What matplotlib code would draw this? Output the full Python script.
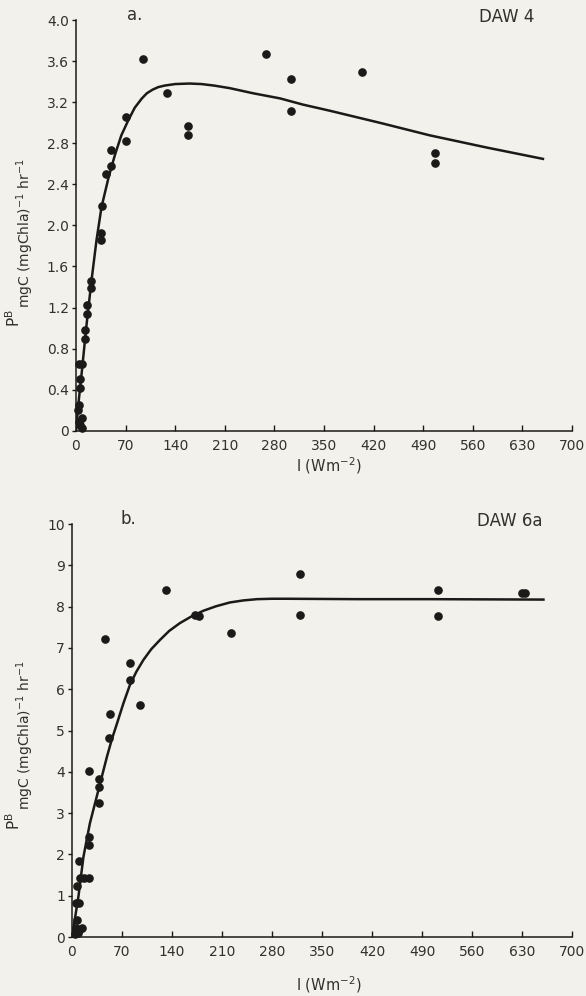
import matplotlib
matplotlib.use("Agg")
import matplotlib.pyplot as plt

# DAW 4 (panel a) - observations
a_irr = [94, 129, 158, 158, 268, 304, 304, 403, 506, 506,
         71, 71, 50, 50, 43, 36, 35, 35, 21, 21, 15, 15, 13, 13,
         9, 4, 6, 6, 4, 3, 8, 6, 9, 4]
a_pb = [3.62, 3.29, 2.97, 2.88, 3.67, 3.43, 3.12, 3.50, 2.71, 2.61,
        3.06, 2.82, 2.74, 2.58, 2.50, 2.19, 1.93, 1.86, 1.46, 1.39, 1.22, 1.14, 0.98, 0.89,
        0.65, 0.65, 0.50, 0.41, 0.25, 0.20, 0.12, 0.05, 0.02, 0.08]
# DAW 4 fitted curve
a_fit_irr = [0, 4, 8, 15, 22, 29, 36, 46, 55, 64, 74, 83, 93, 100, 108, 116, 125, 140,
             160, 177, 195, 217, 250, 288, 320, 358, 430, 499, 580, 659]
a_fit_pb = [0, 0.30, 0.56, 1.04, 1.47, 1.86, 2.18, 2.47, 2.69, 2.88, 3.03, 3.15, 3.24, 3.29,
            3.325, 3.35, 3.365, 3.38, 3.385, 3.38, 3.365, 3.34, 3.29, 3.24, 3.18, 3.12,
            3.00, 2.88, 2.76, 2.65]

# DAW 6a (panel b) - observations
b_irr = [132, 172, 178, 222, 46, 81, 81, 95, 53, 52, 24, 38, 38, 38, 24, 24,
         24, 17, 11, 10, 7, 10, 6, 7, 5, 10, 14, 8, 4,
         319, 319, 513, 513, 630, 634]
b_pb = [8.40, 7.80, 7.78, 7.37, 7.21, 6.63, 6.22, 5.62, 5.40, 4.81, 4.02, 3.82, 3.62, 3.24, 2.41, 2.22,
        1.44, 1.43, 1.43, 1.84, 1.23, 0.83, 0.83, 0.41, 0.21, 0.17, 0.23, 0.09, 0.07,
        8.79, 7.80, 8.39, 7.78, 8.34, 8.34]
# DAW 6a fitted curve
b_fit_irr = [0, 9, 16, 25, 37, 49, 56, 63, 72, 81, 90, 100, 111, 123, 136, 151, 167, 184,
             202, 221, 240, 259, 280, 300, 400, 500, 660]
b_fit_pb = [0, 0.98, 1.94, 2.75, 3.56, 4.37, 4.80, 5.17, 5.66, 6.10, 6.42, 6.71, 6.97, 7.19,
            7.41, 7.60, 7.76, 7.90, 8.01, 8.10, 8.15, 8.18, 8.19, 8.19, 8.18, 8.18, 8.17]

x_ticks = list(range(0, 701, 70))
a_yticks = [0, 0.4, 0.8, 1.2, 1.6, 2.0, 2.4, 2.8, 3.2, 3.6, 4.0]
a_ylabels = ["0", "0.4", "0.8", "1.2", "1.6", "2.0", "2.4", "2.8", "3.2", "3.6", "4.0"]
b_yticks = list(range(0, 11))

bg = "#f3f1eb"
ink = "#1c1a18"
txt = "#333130"
W, H = 586, 996

fig = plt.figure(figsize=(W / 100, H / 100), dpi=100, facecolor=bg)


def setup(ax, yticks, ylabels, ymax):
    ax.set_facecolor(bg)
    ax.set_xlim(0, 700)
    ax.set_ylim(0, ymax)
    for s in ["top", "right"]:
        ax.spines[s].set_visible(False)
    for s in ["left", "bottom"]:
        ax.spines[s].set_linewidth(1.1)
        ax.spines[s].set_color(ink)
    ax.set_xticks(x_ticks)
    ax.set_yticks(yticks)
    ax.set_yticklabels(ylabels)
    ax.tick_params(axis="x", direction="in", length=4, width=1, colors=ink,
                   labelcolor=txt, labelsize=10, pad=6)
    ax.tick_params(axis="y", direction="out", length=3, width=1, colors=ink,
                   labelcolor=txt, labelsize=10, pad=2)


def fx(px):
    return px / W


def fy(py):
    return 1 - py / H


ax1 = fig.add_axes([fx(76), fy(430.5), fx(496), 410 / H])
setup(ax1, a_yticks, a_ylabels, 4.0)
ax1.plot(a_fit_irr, a_fit_pb, color=ink, lw=1.8, zorder=2, solid_joinstyle="round")
ax1.plot(a_irr, a_pb, "o", color=ink, ms=5.2, zorder=3, clip_on=False)

ax2 = fig.add_axes([fx(72), fy(937), fx(500), 413 / H])
setup(ax2, b_yticks, [str(v) for v in b_yticks], 10)
ax2.plot(b_fit_irr, b_fit_pb, color=ink, lw=1.8, zorder=2, solid_joinstyle="round")
ax2.plot(b_irr, b_pb, "o", color=ink, ms=5.2, zorder=3, clip_on=False)

# panel labels
fig.text(fx(135), fy(15), "a.", fontsize=12, color=txt, ha="center", va="center")
fig.text(fx(507), fy(17), "DAW 4", fontsize=12, color=txt, ha="center", va="center")
fig.text(fx(128), fy(519), "b.", fontsize=12, color=txt, ha="center", va="center")
fig.text(fx(510), fy(521), "DAW 6a", fontsize=12, color=txt, ha="center", va="center")

# axis labels
for yc in (466, 985):
    fig.text(fx(329), fy(yc), "I (Wm$^{-2}$)", fontsize=10.5, color=txt,
             ha="center", va="center")

for p_y, u_y in ((318, 233), (821, 735)):
    fig.text(fx(14), fy(p_y), "P$^{\\mathregular{B}}$", fontsize=11, color=txt,
             rotation=90, ha="center", va="center")
    fig.text(fx(25), fy(u_y), "mgC (mgChla)$^{\\mathregular{-1}}$ hr$^{\\mathregular{-1}}$",
             fontsize=10, color=txt, rotation=90, ha="center", va="center")

fig.savefig("out.png", dpi=100, facecolor=bg)
